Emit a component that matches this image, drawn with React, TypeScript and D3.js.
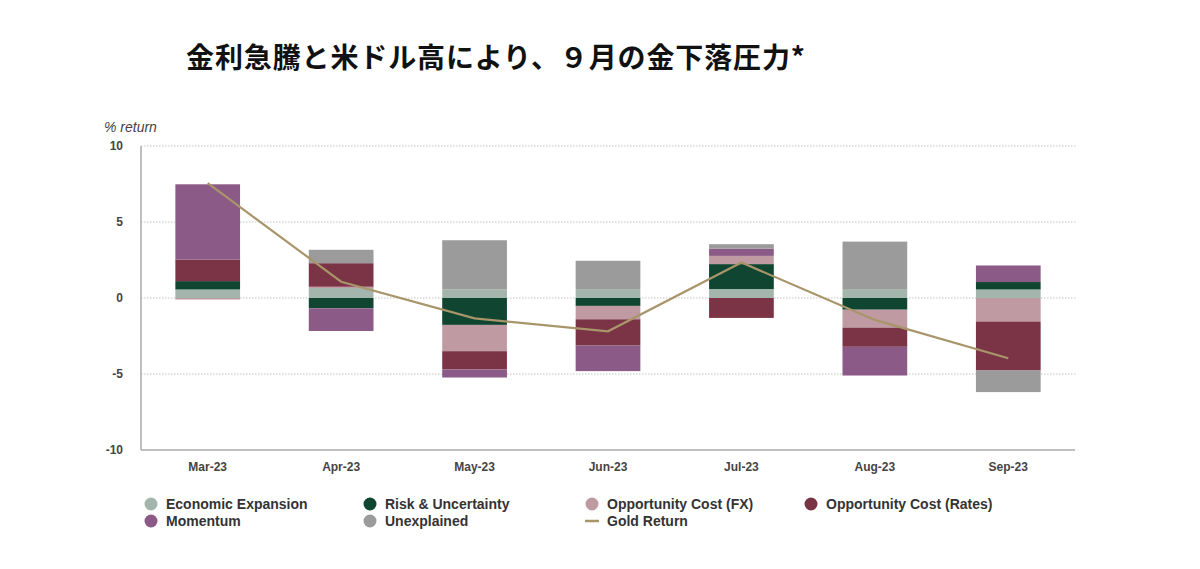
import React from 'react';
import * as d3 from 'd3';

// Monthly attribution of gold returns (% return)
const months = ['Mar-23', 'Apr-23', 'May-23', 'Jun-23', 'Jul-23', 'Aug-23', 'Sep-23'];
const economicExpansion = [0.56, 0.66, 0.57, 0.59, 0.59, 0.59, 0.56];
const riskUncertainty = [0.55, -0.68, -1.77, -0.52, 1.64, -0.77, 0.49];
const oppCostFX = [-0.1, 0.08, -1.73, -0.88, 0.54, -1.18, -1.55];
const oppCostRates = [1.42, 1.55, -1.2, -1.73, -1.31, -1.26, -3.22];
const momentum = [4.95, -1.49, -0.53, -1.68, 0.48, -1.89, 1.09];
const unexplained = [0, 0.88, 3.23, 1.86, 0.29, 3.12, -1.42];
const goldReturn = [7.56, 1.07, -1.34, -2.19, 2.33, -1.44, -3.96];

const seriesNames = [
  'Economic Expansion',
  'Risk & Uncertainty',
  'Opportunity Cost (FX)',
  'Opportunity Cost (Rates)',
  'Momentum',
  'Unexplained',
];
const seriesValues = [economicExpansion, riskUncertainty, oppCostFX, oppCostRates, momentum, unexplained];
const seriesColors = ['#a3b5ad', '#0f4531', '#c09aa3', '#7b3446', '#8b5a87', '#9b9b9b'];
const lineColor = '#a8956a';
const yTicks = [10, 5, 0, -5, -10];

const W = 1200;
const H = 569;
const margin = { top: 146, right: 125, bottom: 119, left: 141 };

export default function App() {
  const x = d3
    .scaleBand<string>()
    .domain(months)
    .range([margin.left, W - margin.right])
    .paddingInner(0.515)
    .paddingOuter(0.2575);
  const y = d3.scaleLinear().domain([-10, 10]).range([H - margin.bottom, margin.top]);

  const rows = months.map((m, i) => {
    const r: Record<string, any> = { month: m };
    seriesNames.forEach((s, k) => (r[s] = seriesValues[k][i]));
    return r;
  });
  const stacked = d3.stack<Record<string, any>>().keys(seriesNames).offset(d3.stackOffsetDiverging)(rows);

  const line = d3
    .line<number>()
    .x((_d, i) => (x(months[i]) as number) + x.bandwidth() / 2)
    .y((d) => y(d));

  const font = '"Liberation Sans", Arial, sans-serif';

  const legendItems = [
    ...seriesNames.map((n, k) => ({ name: n, color: seriesColors[k], kind: 'dot' })),
    { name: 'Gold Return', color: lineColor, kind: 'line' },
  ];
  const legendCols = [151, 370, 592, 811];

  return (
    <div style={{ position: 'absolute', left: 0, top: 0 }}>
      <svg width={W} height={H} style={{ display: 'block', background: '#fff' }}>
        <text
          x={186}
          y={68}
          fontFamily='"Noto Sans CJK JP", sans-serif'
          fontWeight={700}
          fontSize={28}
          fill="#111"
          textLength={619}
          lengthAdjust="spacing"
        >
          金利急騰と米ドル高により、９月の金下落圧力*
        </text>

        <text x={104} y={132} fontFamily={font} fontStyle="italic" fontSize={14} fill="#444">
          % return
        </text>

        {/* gridlines */}
        {yTicks
          .filter((t) => t !== -10)
          .map((t) => (
            <line
              key={t}
              x1={margin.left}
              x2={W - margin.right + 2}
              y1={y(t)}
              y2={y(t)}
              stroke="#c4c4c4"
              strokeDasharray="1.5,1.5"
            />
          ))}

        {/* y tick labels */}
        {yTicks.map((t) => (
          <text
            key={t}
            x={123}
            y={y(t) + 4}
            textAnchor="end"
            fontFamily={font}
            fontSize={12}
            fontWeight={700}
            fill="#444"
          >
            {t}
          </text>
        ))}

        {/* stacked bars */}
        {stacked.map((layer, k) => (
          <g key={layer.key} fill={seriesColors[k]}>
            {layer.map((d, i) => {
              const top = y(Math.max(d[0], d[1]));
              const h = Math.abs(y(d[0]) - y(d[1]));
              if (h < 0.01) return null;
              return <rect key={i} x={x(months[i])} y={top} width={x.bandwidth()} height={h} />;
            })}
          </g>
        ))}

        {/* axes */}
        <line x1={margin.left} x2={margin.left} y1={y(10)} y2={y(-10)} stroke="#aaa" strokeWidth={1.5} />
        <line x1={margin.left} x2={W - margin.right} y1={y(-10)} y2={y(-10)} stroke="#aaa" strokeWidth={1.5} />

        {/* gold return line */}
        <path d={line(goldReturn) || ''} fill="none" stroke={lineColor} strokeWidth={2.2} />

        {/* x labels */}
        {months.map((m) => (
          <text
            key={m}
            x={(x(m) as number) + x.bandwidth() / 2}
            y={471}
            textAnchor="middle"
            fontFamily={font}
            fontSize={12}
            fontWeight={700}
            fill="#444"
          >
            {m}
          </text>
        ))}

        {/* legend */}
        {legendItems.map((it, i) => {
          const cx = legendCols[i % 4];
          const cy = i < 4 ? 504 : 521;
          return (
            <g key={it.name}>
              {it.kind === 'dot' ? (
                <circle cx={cx} cy={cy} r={6.5} fill={it.color} />
              ) : (
                <line x1={cx - 7} x2={cx + 7} y1={cy} y2={cy} stroke={it.color} strokeWidth={2.5} />
              )}
              <text x={cx + 15} y={cy + 5} fontFamily={font} fontSize={14} fontWeight={700} fill="#333">
                {it.name}
              </text>
            </g>
          );
        })}
      </svg>
    </div>
  );
}
